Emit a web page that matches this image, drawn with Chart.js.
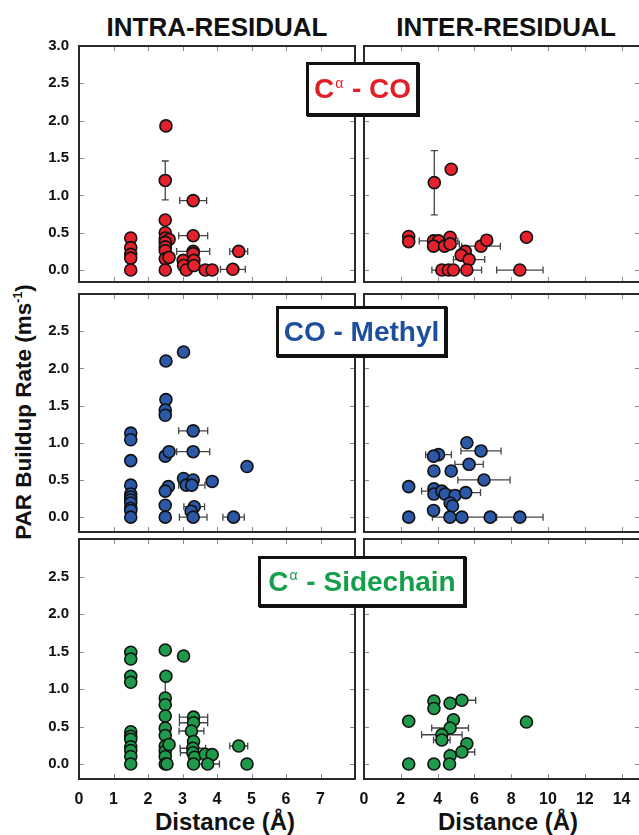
<!DOCTYPE html>
<html>
<head>
<meta charset="utf-8">
<title>PAR buildup rates</title>
<script src="https://cdn.jsdelivr.net/npm/chart.js@4.4.1/dist/chart.umd.min.js"></script>
<style>
  html, body { margin: 0; padding: 0; background: #fff; overflow: hidden; }
  #fig { position: relative; width: 639px; height: 835px; overflow: hidden;
         font-family: "Liberation Sans", Arial, sans-serif; color: #111; }
  #fig canvas { position: absolute; }
  .txt { position: absolute; font-weight: bold; white-space: nowrap; }
  .col-title { font-size: 26px; top: 12px; transform: translateX(-50%); }
  .x-title { font-size: 24px; top: 808px; transform: translateX(-50%); }
  .y-title { font-size: 22.5px; left: 24px; top: 412px; transform: translate(-50%, -50%) rotate(-90deg); }
  .y-title sup, .tag sup { font-size: 55%; vertical-align: 0.75em; line-height: 0; }
  .tag sup { font-weight: normal; font-size: 50%; margin: 0 1px; }
  .tag { position: absolute; box-sizing: border-box; background: #fff; border: 3px solid #111;
         box-shadow: 1px 1px 0 #111; font-size: 28px; font-weight: bold;
         display: flex; align-items: center; justify-content: center; white-space: nowrap; }
</style>
</head>
<body>
<div id="fig">
  <div class="txt col-title" style="left:217px">INTRA-RESIDUAL</div>
  <div class="txt col-title" style="left:506px">INTER-RESIDUAL</div>
  <div class="txt y-title">PAR Buildup Rate (ms<sup>-1</sup>)</div>
  <div class="txt x-title" style="left:225px">Distance (Å)</div>
  <div class="txt x-title" style="left:508px">Distance (Å)</div>
</div>

<script>
// each point: [distance, rate, distance error, rate error]
const intraCaCO = [
  [1.5, 0.43], [1.5, 0.30], [1.5, 0.21], [1.5, 0.16], [1.5, 0.0],
  [2.52, 1.93], [2.5, 1.20, 0, 0.26], [2.5, 0.67], [2.5, 0.50], [2.5, 0.43], [2.61, 0.41],
  [2.5, 0.37], [2.5, 0.31], [2.5, 0.26], [2.5, 0.15], [2.61, 0.17], [2.5, 0.0],
  [3.02, 0.13], [3.03, 0.06], [3.11, 0.0],
  [3.31, 0.93, 0.39], [3.31, 0.46, 0.42], [3.31, 0.25, 0.48], [3.31, 0.22], [3.33, 0.13], [3.33, 0.06],
  [3.66, 0.0], [3.86, 0.0], [4.46, 0.01, 0.36], [4.63, 0.25, 0.26]
];
const interCaCO = [
  [2.43, 0.45], [2.43, 0.38], [3.82, 1.17, 0, 0.43], [4.74, 1.35],
  [3.78, 0.39], [4.05, 0.39, 1.05], [3.78, 0.32], [4.38, 0.32], [4.68, 0.44], [4.68, 0.35, 0.5],
  [5.5, 0.25], [5.28, 0.20], [5.71, 0.14, 0.85], [6.36, 0.32, 1.05], [6.67, 0.40], [8.83, 0.44],
  [4.23, 0.0], [4.59, 0.0, 0.9], [4.86, 0.0], [5.59, 0.0, 0.8], [8.47, 0.0, 1.26]
];
const intraCOMethyl = [
  [1.5, 1.13], [1.5, 1.04], [1.5, 0.76], [1.5, 0.43], [1.5, 0.31], [1.5, 0.27],
  [1.5, 0.23], [1.5, 0.19], [1.5, 0.12], [1.5, 0.09], [1.5, 0.0],
  [2.52, 2.10], [2.52, 1.58], [2.5, 1.44], [2.5, 1.37], [2.5, 0.82], [2.61, 0.88],
  [2.59, 0.41], [2.5, 0.35], [2.5, 0.16], [2.5, 0.0],
  [3.03, 2.22], [3.03, 0.52], [3.11, 0.43],
  [3.31, 1.16, 0.42], [3.31, 0.88, 0.48], [3.31, 0.50], [3.27, 0.43, 0.38], [3.86, 0.48],
  [3.34, 0.14, 0.3], [3.25, 0.08], [3.31, 0.0, 0.4], [4.48, 0.0, 0.31], [4.87, 0.68]
];
const interCOMethyl = [
  [2.43, 0.41], [2.43, 0.0], [5.59, 1.0], [6.36, 0.89, 1.09], [4.05, 0.84, 0.7], [3.78, 0.82],
  [5.71, 0.71, 0.77], [3.8, 0.62], [4.74, 0.62], [6.52, 0.50, 1.42], [3.8, 0.38], [3.8, 0.31],
  [4.23, 0.35, 1.1], [4.41, 0.31], [4.95, 0.29], [5.53, 0.33, 0.8], [4.68, 0.19], [4.81, 0.15],
  [3.78, 0.09], [4.67, 0.0], [5.32, 0.0, 1.6], [6.86, 0.0], [8.47, 0.0, 1.26]
];
const intraCaSidechain = [
  [1.5, 1.49], [1.5, 1.40], [1.5, 1.17], [1.5, 1.09], [1.5, 0.43], [1.5, 0.37],
  [1.5, 0.33], [1.5, 0.23], [1.5, 0.18], [1.5, 0.10], [1.5, 0.0],
  [2.5, 1.52], [2.52, 1.17], [2.5, 0.88, 0, 0.29], [2.5, 0.79], [2.5, 0.64], [2.5, 0.48],
  [2.5, 0.38], [2.5, 0.24], [2.5, 0.17], [2.5, 0.10], [2.5, 0.0], [2.61, 0.26], [2.55, 0.0],
  [3.03, 1.44],
  [3.32, 0.625, 0.41], [3.32, 0.55, 0.41], [3.26, 0.44, 0.36], [3.32, 0.30], [3.30, 0.21, 0.37],
  [3.30, 0.15, 0.36], [3.35, 0.09], [3.32, 0.0],
  [3.66, 0.13], [3.86, 0.125], [3.73, 0.0, 0.34], [4.63, 0.24, 0.26], [4.87, 0.0]
];
const interCaSidechain = [
  [2.43, 0.57], [2.43, 0.0], [3.8, 0.84], [3.8, 0.74], [4.68, 0.81], [5.32, 0.85, 0.75],
  [4.86, 0.59], [4.68, 0.48, 1.0], [4.23, 0.39, 1.1], [4.23, 0.32, 0.45], [5.59, 0.27],
  [5.32, 0.16, 0.7], [4.68, 0.11], [3.8, 0.0], [4.65, 0.0], [8.83, 0.56]
];

const tagLabels = ['C<sup>α</sup> - CO', 'CO - Methyl', 'C<sup>α</sup> - Sidechain'];
const tagColors = ['#e21f26', '#1d4f9c', '#14a04a'];
const markerColors = ['#e5222b', '#2b59a8', '#1e9a4a'];
const panelData = [
  [intraCaCO, interCaCO],
  [intraCOMethyl, interCOMethyl],
  [intraCaSidechain, interCaSidechain]
];

// panel geometry in page pixels
const cols = [
  { left: 0, width: 360, plotLeft: 79, plotRight: 355, xMax: 8, xStep: 1, lastLabel: 7, yLabels: true },
  { left: 359, width: 290, plotLeft: 364, plotRight: 640, xMax: 15, xStep: 2, lastLabel: 14, yLabels: false }
];
const rows = [
  { top: 46, bottom: 282, yMin: -0.16, topLabel: 3.0, xLabels: false },
  { top: 294, bottom: 532, yMin: -0.2, topLabel: 2.5, xLabels: false },
  { top: 539, bottom: 779, yMin: -0.2, topLabel: 2.5, xLabels: true }
];
const tagBoxes = [
  { left: 306, top: 62, width: 113, height: 54 },
  { left: 276, top: 306, width: 171, height: 51 },
  { left: 258, top: 556, width: 208, height: 51 }
];

const tickFont = { family: '"Liberation Sans", Arial, sans-serif', size: 15, weight: 'bold' };

// frame, inward tick marks and error bars
const panelDecor = {
  id: 'panelDecor',
  beforeDatasetsDraw(chart) {
    const { ctx, chartArea: a, scales: { x, y } } = chart;
    ctx.save();
    ctx.strokeStyle = '#8a8a8a';
    ctx.lineWidth = 1;
    ctx.beginPath();
    x.ticks.forEach(t => {
      const px = Math.round(x.getPixelForValue(t.value)) + 0.5;
      ctx.moveTo(px, a.top); ctx.lineTo(px, a.top + 5);
      ctx.moveTo(px, a.bottom); ctx.lineTo(px, a.bottom - 5);
    });
    y.ticks.forEach(t => {
      const py = Math.round(y.getPixelForValue(t.value)) + 0.5;
      ctx.moveTo(a.left, py); ctx.lineTo(a.left + 5, py);
      ctx.moveTo(a.right, py); ctx.lineTo(a.right - 5, py);
    });
    ctx.stroke();

    ctx.strokeStyle = '#444';
    ctx.lineWidth = 1.3;
    ctx.beginPath();
    chart.data.datasets[0].data.forEach(p => {
      const cx = x.getPixelForValue(p.x), cy = y.getPixelForValue(p.y);
      if (p.xe) {
        const l = x.getPixelForValue(p.x - p.xe), r = x.getPixelForValue(p.x + p.xe);
        ctx.moveTo(l, cy); ctx.lineTo(r, cy);
        ctx.moveTo(l, cy - 3.5); ctx.lineTo(l, cy + 3.5);
        ctx.moveTo(r, cy - 3.5); ctx.lineTo(r, cy + 3.5);
      }
      if (p.ye) {
        const t = y.getPixelForValue(p.y + p.ye), b = y.getPixelForValue(p.y - p.ye);
        ctx.moveTo(cx, t); ctx.lineTo(cx, b);
        ctx.moveTo(cx - 3.5, t); ctx.lineTo(cx + 3.5, t);
        ctx.moveTo(cx - 3.5, b); ctx.lineTo(cx + 3.5, b);
      }
    });
    ctx.stroke();
    ctx.restore();
  },
  afterDatasetsDraw(chart) {
    const { ctx, chartArea: a } = chart;
    ctx.save();
    ctx.strokeStyle = '#2a2a2a';
    ctx.lineWidth = 2;
    ctx.strokeRect(a.left, a.top, a.right - a.left, a.bottom - a.top);
    ctx.restore();
  }
};

// keep the plot box at a fixed size whatever the labels measure
function fixSize(s, prop, value) {
  s[prop] = value;
  s.paddingTop = 0; s.paddingBottom = 0;
  s.paddingLeft = 0; s.paddingRight = 0;
}

const fig = document.getElementById('fig');

rows.forEach((row, r) => {
  cols.forEach((col, c) => {
    const canvasTop = row.top - 10;
    const canvasBottom = row.xLabels ? row.bottom + 32 : row.bottom + 6;
    const cv = document.createElement('canvas');
    cv.width = col.width;
    cv.height = canvasBottom - canvasTop;
    cv.style.left = col.left + 'px';
    cv.style.top = canvasTop + 'px';
    fig.appendChild(cv);

    const points = panelData[r][c].map(([x, y, xe = 0, ye = 0]) => ({ x, y, xe, ye }));

    new Chart(cv, {
      type: 'scatter',
      data: {
        datasets: [{
          data: points,
          backgroundColor: markerColors[r],
          borderColor: '#111',
          borderWidth: 1.6,
          pointRadius: 6,
          pointHoverRadius: 6
        }]
      },
      options: {
        responsive: false,
        animation: false,
        devicePixelRatio: 1,
        events: [],
        layout: {
          autoPadding: false,
          padding: { top: 10, right: col.left + col.width - col.plotRight, left: 0, bottom: 0 }
        },
        plugins: { legend: { display: false }, tooltip: { enabled: false } },
        scales: {
          x: {
            type: 'linear',
            min: 0,
            max: col.xMax,
            grid: { display: false, drawTicks: false },
            border: { display: false },
            ticks: {
              display: row.xLabels,
              stepSize: col.xStep,
              includeBounds: false,
              autoSkip: false,
              maxRotation: 0,
              padding: 11,
              color: '#111',
              font: { ...tickFont, size: 16 },
              callback: v => (v > col.lastLabel ? '' : String(v))
            },
            afterFit: s => fixSize(s, 'height', canvasBottom - row.bottom)
          },
          y: {
            type: 'linear',
            min: row.yMin,
            max: 3.0,
            grid: { display: false, drawTicks: false },
            border: { display: false },
            ticks: {
              display: col.yLabels,
              stepSize: 0.5,
              includeBounds: false,
              autoSkip: false,
              padding: 10,
              color: '#111',
              font: tickFont,
              callback: v => (v > row.topLabel + 1e-9 ? '' : v.toFixed(1))
            },
            afterFit: s => fixSize(s, 'width', col.plotLeft - col.left)
          }
        }
      },
      plugins: [panelDecor]
    });
  });
});

// pair labels sit across both columns
tagBoxes.forEach((b, i) => {
  const d = document.createElement('div');
  d.className = 'tag';
  d.style.left = b.left + 'px';
  d.style.top = b.top + 'px';
  d.style.width = b.width + 'px';
  d.style.height = b.height + 'px';
  d.style.color = tagColors[i];
  d.innerHTML = '<span>' + tagLabels[i] + '</span>';
  fig.appendChild(d);
});
</script>
</body>
</html>
